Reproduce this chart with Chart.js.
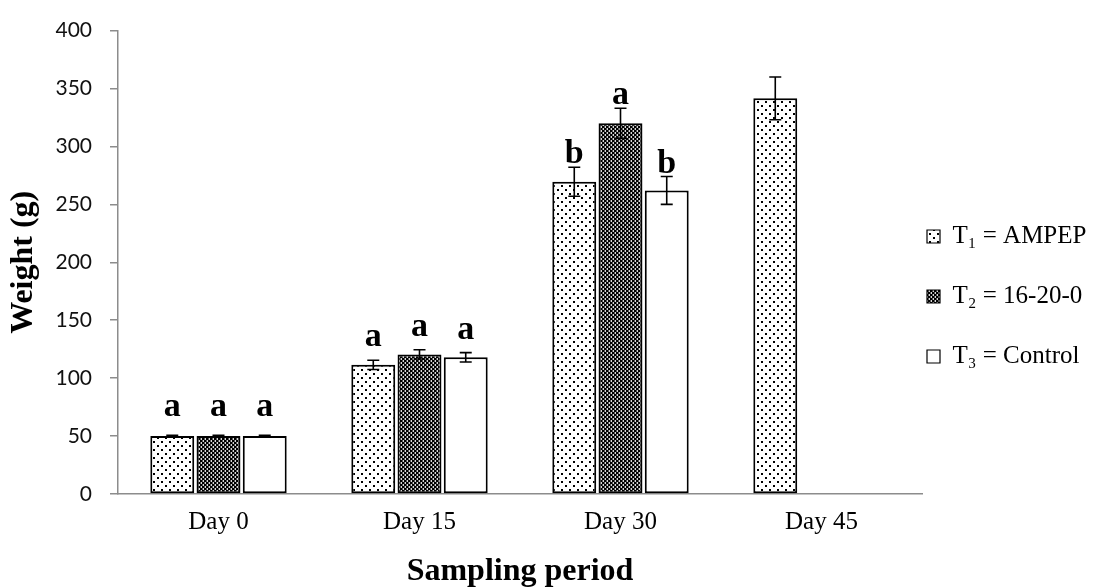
<!DOCTYPE html>
<html>
<head>
<meta charset="utf-8">
<script src="https://cdn.jsdelivr.net/npm/chart.js@4.4.1/dist/chart.umd.min.js"></script>
<style>
  html, body { margin: 0; padding: 0; background: #fff; }
</style>
</head>
<body>
<canvas id="weightChart" width="1094" height="588"></canvas>
<script>
// data
const days = ['Day 0', 'Day 15', 'Day 30', 'Day 45'];
const seriesNames = ['T\u2081 = AMPEP', 'T\u2082 = 16-20-0', 'T\u2083 = Control'];
const ampep = [50, 111.5, 269.5, 341.5];
const fert = [50, 120.5, 320, null];
const control = [50, 118, 262, null];
const ampepErr = [0.6, 4, 12.5, 18.5];
const fertErr = [0.6, 4, 13, null];
const controlErr = [0.6, 4, 12, null];
const ampepLetters = ['a', 'a', 'b', ''];
const fertLetters = ['a', 'a', 'a', ''];
const controlLetters = ['a', 'a', 'b', ''];
const yMin = 0, yMax = 400, yStep = 50;

const serif = '"Liberation Serif", "Times New Roman", serif';

function makePattern(size, paint) {
  const c = document.createElement('canvas');
  c.width = size; c.height = size;
  const g = c.getContext('2d');
  paint(g);
  return g.createPattern(c, 'repeat');
}

// sparse dots
const dotted = makePattern(8, g => {
  g.fillStyle = '#fff'; g.fillRect(0, 0, 8, 8);
  g.fillStyle = '#000';
  g.fillRect(1, 1, 2, 2);
  g.fillRect(5, 5, 2, 2);
});
// fine dark checker
const checker = makePattern(4, g => {
  g.fillStyle = '#d8d8d8'; g.fillRect(0, 0, 4, 4);
  g.fillStyle = '#000';
  g.fillRect(0, 0, 2, 2);
  g.fillRect(2, 2, 2, 2);
  g.fillStyle = '#555';
  g.fillRect(2, 0, 1, 2);
  g.fillRect(0, 2, 1, 2);
});

// error bars + significance letters
const errorBars = {
  id: 'errorBars',
  afterDatasetsDraw(chart, args, opts) {
    const ctx = chart.ctx;
    const y = chart.scales.y;
    chart.data.datasets.forEach((ds, i) => {
      const meta = chart.getDatasetMeta(i);
      meta.data.forEach((bar, j) => {
        const v = ds.data[j], e = ds.errors[j];
        if (v == null || e == null) return;
        const top = y.getPixelForValue(v + e);
        const bot = y.getPixelForValue(v - e);
        ctx.save();
        ctx.strokeStyle = '#000';
        ctx.lineWidth = 1.6;
        ctx.beginPath();
        ctx.moveTo(bar.x, top); ctx.lineTo(bar.x, bot);
        ctx.moveTo(bar.x - 6, top); ctx.lineTo(bar.x + 6, top);
        ctx.moveTo(bar.x - 6, bot); ctx.lineTo(bar.x + 6, bot);
        ctx.stroke();
        const letter = ds.letters[j];
        if (letter) {
          ctx.fillStyle = '#000';
          ctx.font = 'bold 34px ' + serif;
          ctx.textAlign = 'center';
          ctx.textBaseline = 'alphabetic';
          ctx.fillText(letter, bar.x, top - opts.gaps[j]);
        }
        ctx.restore();
      });
    });
  }
};

const ctx = document.getElementById('weightChart').getContext('2d');
const barStyle = { borderColor: '#000', borderWidth: 2, borderSkipped: false,
                   categoryPercentage: 0.69, barPercentage: 0.95 };

new Chart(ctx, {
  type: 'bar',
  data: {
    labels: days,
    datasets: [
      Object.assign({ label: seriesNames[0], data: ampep, errors: ampepErr, letters: ampepLetters, backgroundColor: dotted }, barStyle),
      Object.assign({ label: seriesNames[1], data: fert, errors: fertErr, letters: fertLetters, backgroundColor: checker }, barStyle),
      Object.assign({ label: seriesNames[2], data: control, errors: controlErr, letters: controlLetters, backgroundColor: '#fff' }, barStyle)
    ]
  },
  options: {
    responsive: false,
    animation: false,
    devicePixelRatio: 1,
    layout: { padding: { top: 20, right: 0, bottom: 0, left: 0 } },
    scales: {
      x: {
        afterFit: s => { s.height = 94; },
        grid: { display: true, drawOnChartArea: false, drawTicks: false },
        border: { display: true, color: '#8c8c8c', width: 1.5 },
        ticks: { color: '#000', padding: 13, font: { family: serif, size: 25 } },
        title: { display: true, text: 'Sampling period', color: '#000',
                 padding: { top: 1, bottom: 0 },
                 font: { family: serif, size: 32, weight: 'bold', lineHeight: 1 } }
      },
      y: {
        min: yMin, max: yMax,
        afterFit: s => { s.width = 118; },
        grid: { display: true, drawOnChartArea: false, drawTicks: true, tickLength: 8, color: '#8c8c8c', lineWidth: 1.5 },
        border: { display: true, color: '#8c8c8c', width: 1.5 },
        ticks: { stepSize: yStep, color: '#111', padding: 18, font: { family: 'Lato, "Liberation Sans", sans-serif', size: 21 } },
        title: { display: true, text: 'Weight (g)', color: '#000',
                 padding: { top: 8, bottom: 0 },
                 font: { family: serif, size: 32, weight: 'bold', lineHeight: 1 } }
      }
    },
    plugins: {
      tooltip: { enabled: false },
      errorBars: { gaps: [19, 14, 4, 4] },
      legend: {
        position: 'right',
        align: 'start',
        maxWidth: 172,
        title: { display: true, text: ' ', font: { size: 10 }, padding: { top: 94, bottom: 93 } },
        labels: {
          boxWidth: 13,
          boxHeight: 13,
          padding: 5,
          color: '#000',
          font: { family: serif, size: 25 },
          generateLabels(chart) {
            const base = Chart.defaults.plugins.legend.labels.generateLabels(chart);
            const out = [];
            base.forEach((item, k) => {
              item.lineWidth = 1.2;
              if (k > 0) {
                out.push({ text: '', fillStyle: 'rgba(0,0,0,0)', strokeStyle: 'rgba(0,0,0,0)',
                           lineWidth: 0, hidden: false, datasetIndex: -1 });
              }
              out.push(item);
            });
            return out;
          }
        }
      }
    }
  },
  plugins: [errorBars]
});
</script>
</body>
</html>
